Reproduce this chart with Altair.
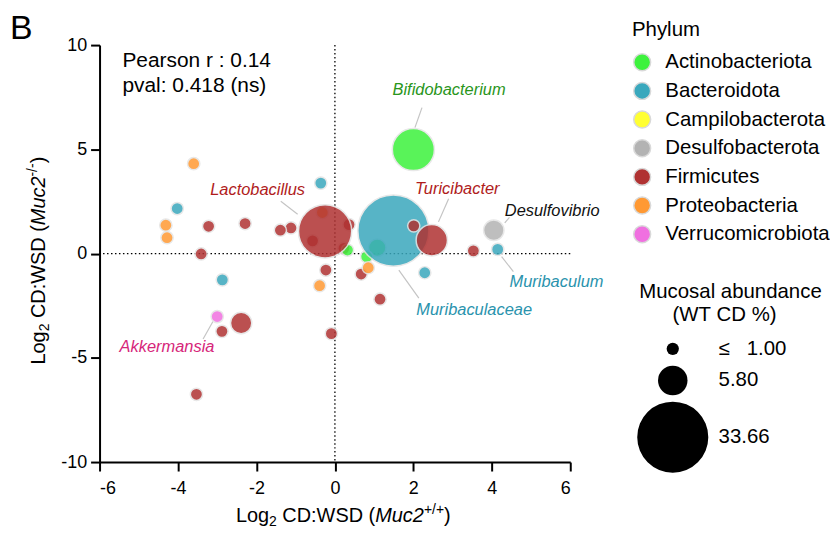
import altair as alt
import pandas as pd

FONT = "Liberation Sans"
NB = "\u00a0"

# ---------------- data ----------------
phyla = ["Actinobacteriota", "Bacteroidota", "Campilobacterota", "Desulfobacterota",
         "Firmicutes", "Proteobacteria", "Verrucomicrobiota"]
phylum_colors = ["#3df23d", "#3aa8bd", "#ffff33", "#b3b3b3", "#b03232", "#ff9933", "#f070e0"]

# genera, listed in drawing order (first = bottom)
pt_phylum = [
    "Firmicutes", "Firmicutes", "Firmicutes", "Proteobacteria",
    "Actinobacteriota", "Actinobacteriota", "Actinobacteriota",
    "Firmicutes", "Bacteroidota", "Firmicutes", "Actinobacteriota", "Desulfobacterota", "Firmicutes",
    "Firmicutes", "Firmicutes", "Firmicutes", "Firmicutes", "Firmicutes", "Firmicutes", "Firmicutes",
    "Firmicutes", "Firmicutes", "Firmicutes", "Firmicutes", "Firmicutes", "Firmicutes",
    "Bacteroidota", "Bacteroidota", "Bacteroidota", "Bacteroidota", "Bacteroidota",
    "Proteobacteria", "Proteobacteria", "Proteobacteria", "Proteobacteria", "Proteobacteria",
    "Verrucomicrobiota",
]
pt_x = [
    -0.57, 0.36, 0.23, -0.32,
    0.32, 1.08, 0.81,
    -0.25, 1.49, 2.47, 2.00, 4.05, -2.39,
    -2.88, -3.53, -0.09, 1.15, 0.67, 2.01, 3.53,
    -1.12, -1.39, -0.23, -3.22, -2.29, -3.41,
    4.15, 2.29, -0.36, -4.02, -2.87,
    -3.60, -4.31, -4.28, 0.85, -0.39,
    -3.00,
]
pt_y = [
    0.61, 1.39, 0.25, 1.97,
    0.17, 0.28, -0.15,
    1.07, 1.10, 0.64, 4.99, 1.12, -3.33,
    -3.73, -6.75, -3.84, -2.19, -0.98, 1.33, 0.13,
    1.23, 1.12, -0.79, 1.31, 1.44, -0.02,
    0.20, -0.92, 3.38, 2.16, -1.26,
    4.31, 1.36, 0.76, -0.68, -1.54,
    -3.02,
]
pt_abund = [
    1.0, 1.0, 1.0, 1.0,
    1.0, 2.02, 1.0,
    18.9, 33.66, 6.55, 11.8, 2.77, 3.03,
    1.0, 1.0, 1.0, 1.0, 1.0, 1.0, 1.0,
    1.0, 1.0, 1.0, 1.0, 1.0, 1.0,
    1.0, 1.0, 1.0, 1.0, 1.0,
    1.0, 1.0, 1.0, 1.0, 1.0,
    1.0,
]

size_legend_values = [1.0, 5.80, 33.66]
x_ticks = [-6, -4, -2, 0, 2, 4, 6]
y_ticks = [-10, -5, 0, 5, 10]

label_text = ["Bifidobacterium", "Lactobacillus", "Turicibacter", "Desulfovibrio",
              "Muribaculum", "Muribaculaceae", "Akkermansia"]
label_x = [2.91, -1.97, 3.12, 5.54, 5.65, 3.55, -4.28]
label_y = [7.61, 2.79, 2.84, 1.79, -1.60, -2.94, -4.73]
label_color = ["#2a961c", "#b01c1c", "#b01c1c", "#111111", "#2a93ad", "#2a93ad", "#d6267a"]

lead_x1 = [2.22, -1.38, 2.90, 4.45, 4.25, 1.63, -3.11]
lead_y1 = [7.00, 2.51, 2.63, 1.74, -0.15, -0.79, -3.26]
lead_x2 = [2.04, -0.95, 2.64, 4.33, 4.55, 2.14, -3.36]
lead_y2 = [6.04, 1.89, 1.52, 1.47, -0.87, -2.14, -4.10]

stats_lines = ["Pearson r : 0.14", "pval: 0.418 (ns)"]

# ---------------- chart ----------------
pts = pd.DataFrame({"phylum": pt_phylum, "x": pt_x, "y": pt_y, "abund": pt_abund,
                    "z": list(range(len(pt_x)))})
labels = pd.DataFrame({"t": label_text, "lx": label_x, "ly": label_y, "c": label_color})
leads = pd.DataFrame({"x1": lead_x1, "y1": lead_y1, "x2": lead_x2, "y2": lead_y2})

xscale = alt.Scale(domain=[-6, 6], nice=False, zero=False)
yscale = alt.Scale(domain=[-10, 10], nice=False, zero=False)

axis_common = dict(grid=False, domainColor="black", domainWidth=2, tickColor="black",
                   tickWidth=2, tickSize=9, labelFontSize=18, labelColor="black",
                   labelFont=FONT, title=None, labelExpr="datum.value + ''")

zero_v = alt.Chart(pd.DataFrame({"x0": [0]})).mark_rule(
    color="black", strokeWidth=1.3, strokeDash=[1.5, 2.5]).encode(
    x=alt.X("x0:Q", scale=xscale))
zero_h = alt.Chart(pd.DataFrame({"y0": [0]})).mark_rule(
    color="black", strokeWidth=1.3, strokeDash=[1.5, 2.5]).encode(
    y=alt.Y("y0:Q", scale=yscale))

leaders = alt.Chart(leads).mark_rule(color="#c4c4c4", strokeWidth=1.2).encode(
    x=alt.X("x1:Q", scale=xscale), x2="x2:Q",
    y=alt.Y("y1:Q", scale=yscale), y2="y2:Q")

points = alt.Chart(pts).mark_circle(opacity=0.85, stroke="#e4e4e4", strokeWidth=1.5).encode(
    x=alt.X("x:Q", scale=xscale, axis=alt.Axis(values=x_ticks, labelPadding=9, **axis_common)),
    y=alt.Y("y:Q", scale=yscale, axis=alt.Axis(values=y_ticks, labelPadding=4, **axis_common)),
    color=alt.Color("phylum:N", scale=alt.Scale(domain=phyla, range=phylum_colors),
                    legend=alt.Legend(title="Phylum", orient="none", legendX=535, legendY=-25.5,
                                      symbolType="circle", symbolSize=289,
                                      symbolStrokeColor="#d9d9d9", symbolStrokeWidth=1.5,
                                      symbolOpacity=1, labelFontSize=20.5, labelFont=FONT,
                                      labelColor="black", labelLimit=400,
                                      titleFontSize=20.5, titleFont=FONT,
                                      titleFontWeight="normal", titleColor="black",
                                      titlePadding=12, rowPadding=4.8, labelOffset=13,
                                      padding=0, titleAnchor="start")),
    size=alt.Size("abund:Q", scale=alt.Scale(domain=[0, 33.66], range=[0, 5100]),
                  legend=alt.Legend(title=None, orient="none", legendX=540, legendY=295,
                                    values=size_legend_values,
                                    labelExpr="datum.value <= 1 ? '\u2264\u00a0\u00a0\u00a01.00' : format(datum.value, '.2f')",
                                    symbolType="circle", symbolFillColor="black",
                                    symbolStrokeWidth=0, symbolOpacity=1,
                                    labelFontSize=20.5, labelFont=FONT, labelColor="black",
                                    rowPadding=6, labelOffset=10, padding=0)),
    order=alt.Order("z:Q"),
)

genus_labels = alt.Chart(labels).mark_text(
    font=FONT, fontSize=16.5, fontStyle="italic", align="center", baseline="alphabetic").encode(
    x=alt.X("lx:Q", scale=xscale),
    y=alt.Y("ly:Q", scale=yscale),
    text="t:N",
    fill=alt.Fill("c:N", scale=None))

one = pd.DataFrame({"a": [0]})


def txt(s, x, y, size, style="normal", angle=0, align="left"):
    return alt.Chart(one).mark_text(
        text=s, font=FONT, fontSize=size, fontStyle=style, angle=angle,
        align=align, baseline="alphabetic", color="black").encode(
        x=alt.value(x), y=alt.value(y))


W = {' ': 278, NB: 278, 'L': 556, 'o': 556, 'g': 556, '2': 556, 'C': 722, 'D': 722, ':': 278,
     'W': 944, 'S': 667, '(': 333, ')': 333, 'M': 833, 'u': 556, 'c': 500, '+': 584,
     '/': 278, '-': 333}


def width(s, size):
    return sum(W[ch] for ch in s) * size / 1000.0


SPACE20 = 278 * 20 / 1000.0
# axis titles, built piece by piece: (text, size, style, baseline shift, gap before)
x_pieces = [("Log", 20, "normal", 0, 0), ("2", 14, "normal", 4, 0),
            ("CD:WSD" + NB + "(", 20, "normal", 0, SPACE20),
            ("Muc2", 20, "italic", 0, 0), ("+/+", 14, "normal", -8, 0), (")", 20, "normal", 0, 0)]
y_pieces = [("Log", 20, "normal", 0, 0), ("2", 14, "normal", 4, 0),
            ("CD:WSD" + NB + "(", 20, "normal", 0, SPACE20),
            ("Muc2", 20, "italic", 0, 0), ("-/-", 14, "normal", -8, 0), (")", 20, "normal", 0, 0)]

layers = [zero_v, zero_h, leaders, points, genus_labels]

cx = 137.0
for s, sz, st, sh, gap in x_pieces:
    cx += gap
    layers.append(txt(s, cx, 479 + sh, sz, st))
    cx += width(s, sz)

cy = 321.0
for s, sz, st, sh, gap in y_pieces:
    cy -= gap
    layers.append(txt(s, -55 + sh, cy, sz, st, angle=270))
    cy -= width(s, sz)

layers.append(txt(stats_lines[0], 23, 22, 21))
layers.append(txt(stats_lines[1], 23, 47, 21))
layers.append(txt("B", -90, -6, 34))
layers.append(txt("Mucosal abundance", 634, 254, 20.5, align="center"))
layers.append(txt("(WT" + NB + "CD" + NB + "%)", 628, 277.5, 20.5, align="center"))

chart = alt.layer(*layers).properties(
    width=473, height=419,
    autosize=alt.AutoSizeParams(type="none"),
    padding={"left": 92, "top": 36, "right": 261, "bottom": 66},
).configure(font=FONT, view=alt.ViewConfig(strokeWidth=0))

chart.save("out.html", embed_options={"renderer": "svg", "actions": False})
